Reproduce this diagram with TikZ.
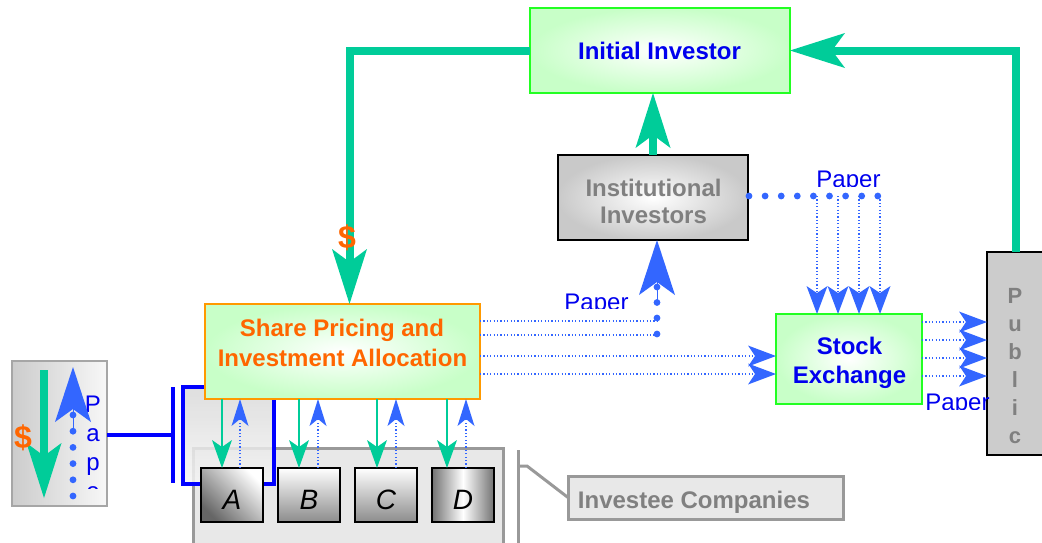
\documentclass[tikz,border=0pt]{standalone}
\usepackage{fontspec}
\setmainfont{Liberation Sans}
\usetikzlibrary{arrows.meta,calc}
\definecolor{tgreen}{HTML}{00CC99}
\definecolor{ablue}{HTML}{3366FF}
\definecolor{tblue}{HTML}{0000EE}
\definecolor{lineblue}{HTML}{0000FF}
\definecolor{torange}{HTML}{FF6600}
\definecolor{tgray}{HTML}{808080}
\definecolor{lgreen}{HTML}{C8FFC8}
\definecolor{bgreen}{HTML}{22FF22}
\definecolor{bgray}{HTML}{999999}
\definecolor{oborder}{HTML}{FF9900}
\definecolor{invfill}{HTML}{E8E8E8}
\begin{document}
\begin{tikzpicture}[x=1pt,y=-1pt,
  every node/.style={inner sep=0pt,outer sep=0pt},
  box/.style={anchor=north west},
  gbox/.style={box,draw=bgreen,line width=2pt,inner color=white,outer color=lgreen},
  bt/.style={font=\fontsize{24}{28}\selectfont\bfseries,anchor=base},
  ptx/.style={font=\fontsize{24}{28}\selectfont,anchor=base,text=tblue},
  lt/.style={font=\fontsize{28}{30}\selectfont\itshape,anchor=base},
  dol/.style={font=\fontsize{32}{34}\selectfont\bfseries,anchor=base,text=torange},
  gline/.style={draw=tgreen,line width=8pt,line join=miter},
  gbig/.style={-{Stealth[length=55pt,width=35pt,inset=13pt,line width=0pt]}},
  gsmall/.style={draw=tgreen,line width=2.5pt,-{Stealth[length=28pt,width=20pt,inset=7pt,line width=0pt]}},
  tdot/.style={draw=ablue,line width=1.2pt,dash pattern=on 1.2pt off 2.2pt},
  bsmall/.style={tdot,-{Stealth[length=27pt,width=17pt,inset=7pt,line width=0pt]}},
  bmid/.style={-{Stealth[length=28pt,width=21pt,inset=7pt,line width=0pt]}},
  bdot/.style={fill=ablue},
  bbig/.style={draw=ablue,line width=1pt,-{Stealth[length=55pt,width=36pt,inset=13pt,line width=0pt]}},
  blueln/.style={draw=lineblue,line width=3.5pt},
  cbox/.style={box,draw=black,line width=1.5pt,minimum width=62pt,minimum height=54pt}
]
\useasboundingbox (0,0) rectangle (1042,542);

% investee companies frame
\node[box,draw=bgray,line width=3pt,fill=invfill,minimum width=310pt,minimum height=112pt] (inv) at (193,448) {};
% callout
\coordinate (cl1) at (518,450);
\coordinate (cl2) at (518,545);
\coordinate (cl3) at (518,466);
\coordinate (cl4) at (527,466);
\node[box,draw=bgray,line width=3pt,fill=invfill,minimum width=275pt,minimum height=43pt] (lab) at (568,476) {};
\draw[draw=bgray,line width=3pt] (cl1) -- (cl2);
\draw[draw=bgray,line width=3pt] (cl3) -- (cl4) -- (lab.west);
\node[bt,text=tgray] at (694,508) {Investee Companies};

% blue bracket rectangle
\node[box,draw=lineblue,line width=3.5pt,top color=gray!30,bottom color=gray!8,fill opacity=0.85,minimum width=91pt,minimum height=97pt] (br) at (183,387) {};

% companies
\node[cbox,top color=white,bottom color=black!60,shading angle=-45] (A) at (201,468) {};
\node[cbox,top color=white,bottom color=black!45] (B) at (278,468) {};
\node[cbox,top color=white,bottom color=black!45] (C) at (355,468) {};
\node[cbox,left color=black!55,right color=black!55,middle color=white] (D) at (432,468) {};
\node[lt] at (232,509) {A};
\node[lt] at (309,509) {B};
\node[lt] at (386,509) {C};
\node[lt] at (463,509) {D};

% left icon box
\node[box,draw=gray!70,line width=1.5pt,left color=gray!40,right color=gray!6,minimum width=95pt,minimum height=145pt] (lb) at (12,361) {};
\begin{scope}
  \clip (80,380) rectangle (106,488);
  \node[ptx] at (93,412) {P};
  \node[ptx] at (93,441) {a};
  \node[ptx] at (93,470) {p};
  \node[ptx] at (93,499) {e};
\end{scope}
\coordinate (lg1) at (44,370);
\coordinate (lg2) at (44,498);
\draw[gline,gbig] (lg1) -- (lg2);
\coordinate (lb3) at (73,430);
\coordinate (lb4) at (73,367);
\foreach \i in {0,...,5} \fill[bdot] (73,{415+16.2*\i}) circle (3.4pt);
\draw[bbig] (lb3) -- (lb4);
\node[dol] at (23,448) {\$};

% bracket lines
\coordinate (bk) at (173,435);
\coordinate (bv1) at (173,387);
\coordinate (bv2) at (173,483);
\draw[blueln] (lb.east |- bk) -- (bk);
\draw[blueln] (bv1) -- (bv2);

% main boxes
\node[box,draw=oborder,line width=2pt,inner color=white,outer color=lgreen,minimum width=275pt,minimum height=95pt] (sp) at (205,304) {};
\node[bt,text=torange] at (342,336) {Share Pricing and};
\node[bt,text=torange] at (342.5,366) {Investment Allocation};

\node[gbox,minimum width=260pt,minimum height=85pt] (ii) at (530,8) {};
\node[bt,text=tblue] at (659.5,59) {Initial Investor};

\node[box,draw=black,line width=1.5pt,inner color=white,outer color=gray!42,minimum width=190pt,minimum height=85pt] (inst) at (558,155) {};
\node[bt,text=tgray] at (653.5,196) {Institutional};
\node[bt,text=tgray] at (653.5,223) {Investors};

\node[gbox,minimum width=146pt,minimum height=90pt] (se) at (776,314) {};
\node[bt,text=tblue] at (849.5,354) {Stock};
\node[bt,text=tblue] at (849.5,383) {Exchange};

\node[box,draw=black,line width=1.5pt,left color=gray!40,middle color=gray!6,right color=gray!40,minimum width=58pt,minimum height=203pt] (pub) at (987,252) {};
\foreach \l/\y in {P/303,u/331,b/359,l/387,i/415,c/443}
  \node[font=\fontsize{22}{26}\selectfont\bfseries,anchor=base,text=tgray] at (1015,\y) {\l};

% green money flows
\draw[gline,gbig] (ii.west) -| ($(sp.north)+(7,0)$);
\node[dol] at (347,248) {\$};
\draw[gline,gbig] (pub.north) |- (ii.east);
\draw[gline,gbig] (inst.north) -- (inst.north |- ii.south);

% share pricing <-> companies
\foreach \n/\g/\b in {A/-10/8,B/-10/9,C/-9/10,D/-16/3}{
  \coordinate (g\n) at ($(\n.north)+(\g,0)$);
  \coordinate (b\n) at ($(\n.north)+(\b,0)$);
  \draw[gsmall] (g\n |- sp.south) -- (g\n);
  \draw[bsmall] (b\n) -- (b\n |- sp.south);
}

% share pricing -> institutional
\coordinate (j1) at (657,321);
\coordinate (j2) at (657,335);
\coordinate (j4) at (657,300);
\draw[tdot] (sp.east |- j1) -- (j1);
\draw[tdot] (sp.east |- j2) -- (j2);
\foreach \y in {287,302.5,318,334} \fill[bdot] (657,\y) circle (3.4pt);
\draw[bbig] (j4) -- (j4 |- inst.south);
\begin{scope}
  \clip (550,280) rectangle (640,308);
  \node[ptx] at (596.5,310) {Paper};
\end{scope}

% share pricing -> stock exchange
\coordinate (s1) at (0,356);
\coordinate (s2) at (0,374);
\draw[tdot,bmid] (sp.east |- s1) -- (se.west |- s1);
\draw[tdot,bmid] (sp.east |- s2) -- (se.west |- s2);

% institutional -> stock exchange
\foreach \i in {0,...,8} \fill[bdot] ({749+16.1*\i},196) circle (3.4pt);
\foreach \x in {817,838,859,880}{
  \coordinate (kk\x) at (\x,196);
  \draw[tdot,bmid] (kk\x) -- (kk\x |- se.north);
}
\begin{scope}
  \clip (800,160) rectangle (900,186.5);
  \node[ptx] at (848.5,187) {Paper};
\end{scope}

% stock exchange -> public
\foreach \y in {322,340,358,376}{
  \coordinate (q\y) at (0,\y);
  \draw[tdot,bmid] (se.east |- q\y) -- (pub.west |- q\y);
}
\begin{scope}
  \clip (920,385) rectangle (995,409);
  \node[ptx] at (957.5,410) {Paper};
\end{scope}
\end{tikzpicture}
\end{document}
